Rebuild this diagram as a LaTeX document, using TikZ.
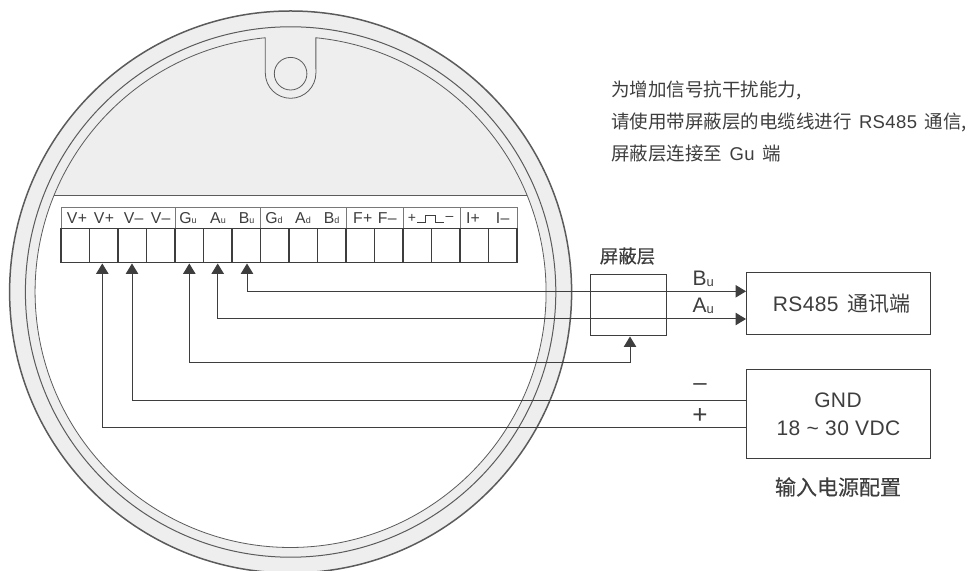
\documentclass[tikz,border=0pt]{standalone}
\usepackage{fontspec}
\usetikzlibrary{arrows.meta}
\setmainfont[LetterSpace=2]{Liberation Sans}
\newfontfamily\cjk{Noto Sans CJK SC}
\newfontfamily\cjkb[FakeBold=0.25]{Noto Sans CJK SC}
\definecolor{ink}{HTML}{3E3E3E}
\definecolor{disc}{HTML}{EEEEEE}
\newcommand{\fs}[1]{\fontsize{#1}{#1}\selectfont}
\newcommand{\sbu}[2]{#1{\fs{9}#2}}
\newcommand{\bsb}[2]{#1{\fs{13}\raisebox{-1.5pt}{#2}}}
\tikzset{
  x=1pt,y=1pt,
  every node/.style={inner sep=0pt,outer sep=0pt,text=ink},
  ring/.style={draw=ink!85,line width=0.8pt},
  cell/.style={draw=ink,line width=1.1pt,minimum width=28.5pt,minimum height=34pt},
  headbox/.style={draw=ink!70,line width=1pt},
  sep/.style={draw=ink!70,line width=0.9pt},
  tlabel/.style={font=\fs{15.8}},
  bigbox/.style={draw=ink,line width=1pt},
  wire/.style={draw=ink,line width=1pt},
  tips/.style={{Triangle[width=12.5pt,length=10.5pt]}-{Triangle[width=12.5pt,length=10.5pt]}},
  boxtext/.style={font=\fs{21}},
  note/.style={anchor=base west,font=\fs{18.5}}
}
\begin{document}
\begin{tikzpicture}
\useasboundingbox (0,0) rectangle (971,570);
\clip (0,0) rectangle (971,570);
% disc
\coordinate (o) at (290.6,278);
\fill[disc] (o) circle[radius=281pt];
\draw[draw=ink!85,line width=1.5pt] (o) circle[radius=281pt];
\draw[ring,line width=1pt] (o) circle[radius=265.2pt];
\begin{scope}
  \clip (0,0) rectangle (971,374.3);
  \fill[white] (o) circle[radius=255.5pt];
\end{scope}
\draw[ring,line width=1.1pt] (53.9,374.3) -- (527.3,374.3);
\draw[ring] (265.3,532.25) arc[start angle=95.68,end angle=444.32,radius=255.5pt]
  -- (315.9,497) arc[start angle=0,end angle=-180,radius=25.3pt] -- cycle;
\node[draw=ink!85,line width=0.8pt,circle,minimum size=32.6pt] (hole) at (290.6,496.3) {};
% terminal header
\node[headbox,minimum width=456pt,minimum height=20.7pt] (head) at (289,351.7) {};
\foreach \x in {175.3,260.7,346.3,403.3,460} \draw[sep] (\x,341.3) -- (\x,362);
% cells
\foreach \i in {1,...,16} \node[cell] (c\i) at ({61+28.5*(\i-0.5)},324.3) {};
% header labels
\node[tlabel] (l1) at (77,351.7) {V+};
\node[tlabel] (l2) at (104,351.7) {V+};
\node[tlabel] (l3) at (133.7,351.7) {V–};
\node[tlabel] (l4) at (160.7,351.7) {V–};
\node[tlabel] (l5) at (188,351.7) {\sbu{G}{u}};
\node[tlabel] (l6) at (218,351.7) {\sbu{A}{u}};
\node[tlabel] (l7) at (246.7,351.7) {\sbu{B}{u}};
\node[tlabel] (l8) at (274,351.7) {\sbu{G}{d}};
\node[tlabel] (l9) at (303,351.7) {\sbu{A}{d}};
\node[tlabel] (l10) at (331.7,351.7) {\sbu{B}{d}};
\node[tlabel] (l11) at (362.7,351.7) {F+};
\node[tlabel] (l12) at (387.3,351.7) {F–};
\node[tlabel,font=\fs{14}] (l13) at (412,351.7) {+};
\node[tlabel,font=\fs{14}] (l14) at (449.5,351.7) {–};
\node[tlabel] (l15) at (473,351.7) {I+};
\node[tlabel] (l16) at (502.7,351.7) {I–};
\draw[draw=ink,line width=0.9pt] (417,347.7) -- (425,347.7) -- (425,354.7) -- (435.7,354.7) -- (435.7,347.7) -- (444,347.7);
% right boxes
\node[bigbox,minimum width=76.7pt,minimum height=61pt] (shld) at (628.35,264.5) {};
\node[bigbox,minimum width=184.7pt,minimum height=61.6pt,boxtext] (rs) at (838.35,266.5) {\hspace*{7pt}RS485\hspace{3pt} {\cjk 通讯端}};
\node[bigbox,minimum width=184.7pt,minimum height=88.6pt] (gnd) at (838.35,156) {};
\node[boxtext] (gndt) at (838,170) {GND};
\node[boxtext] (vdc) at (838.5,142) {18 \char`~{} 30 VDC};
% connector ends
\coordinate (t2) at (102.3,306.5);
\coordinate (t3) at (132,306.5);
\coordinate (t5) at (189.3,306.5);
\coordinate (t6) at (217.7,306.5);
\coordinate (t7) at (247,306.5);
\coordinate (rsB) at (746,278.7);
\coordinate (rsA) at (746,251);
\coordinate (gndM) at (746,169.7);
\coordinate (gndP) at (746,142);
\coordinate (shTip) at (630,233.5);
\coordinate (shTurn) at (630,207.7);
% connectors
\draw[wire,tips] (t7) |- (rsB);
\draw[wire,tips] (t6) |- (rsA);
\draw[wire,tips] (t5) |- (shTurn) -- (shTip);
\draw[wire,{Triangle[width=12.5pt,length=10.5pt]}-] (t3) |- (gndM);
\draw[wire,{Triangle[width=12.5pt,length=10.5pt]}-] (t2) |- (gndP);
% labels
\node[font=\fs{18.5}] (shl) at (627.5,314) {\cjkb 屏蔽层};
\node[anchor=base west,font=\fs{21}] (bl) at (692.5,284.5) {\bsb{B}{u}};
\node[anchor=base west,font=\fs{21}] (al) at (692.5,257.5) {\bsb{A}{u}};
\node[font=\fs{24}] (mn) at (700,183) {–};
\node[font=\fs{26}] (pl) at (700,154) {+};
\node[font=\fs{21}] (pw) at (838,83) {\cjkb 输入电源配置};
\node[note] (n1) at (611,473.5) {\cjk 为增加信号抗干扰能力,};
\node[note] (n2) at (611,441.5) {{\cjk 请使用带屏蔽层的电缆线进行}\hspace{2pt} RS485\hspace{2pt} {\cjk 通信,}};
\node[note] (n3) at (611,409.5) {{\cjk 屏蔽层连接至}\hspace{2pt} Gu\hspace{2pt} {\cjk 端}};
\end{tikzpicture}
\end{document}
